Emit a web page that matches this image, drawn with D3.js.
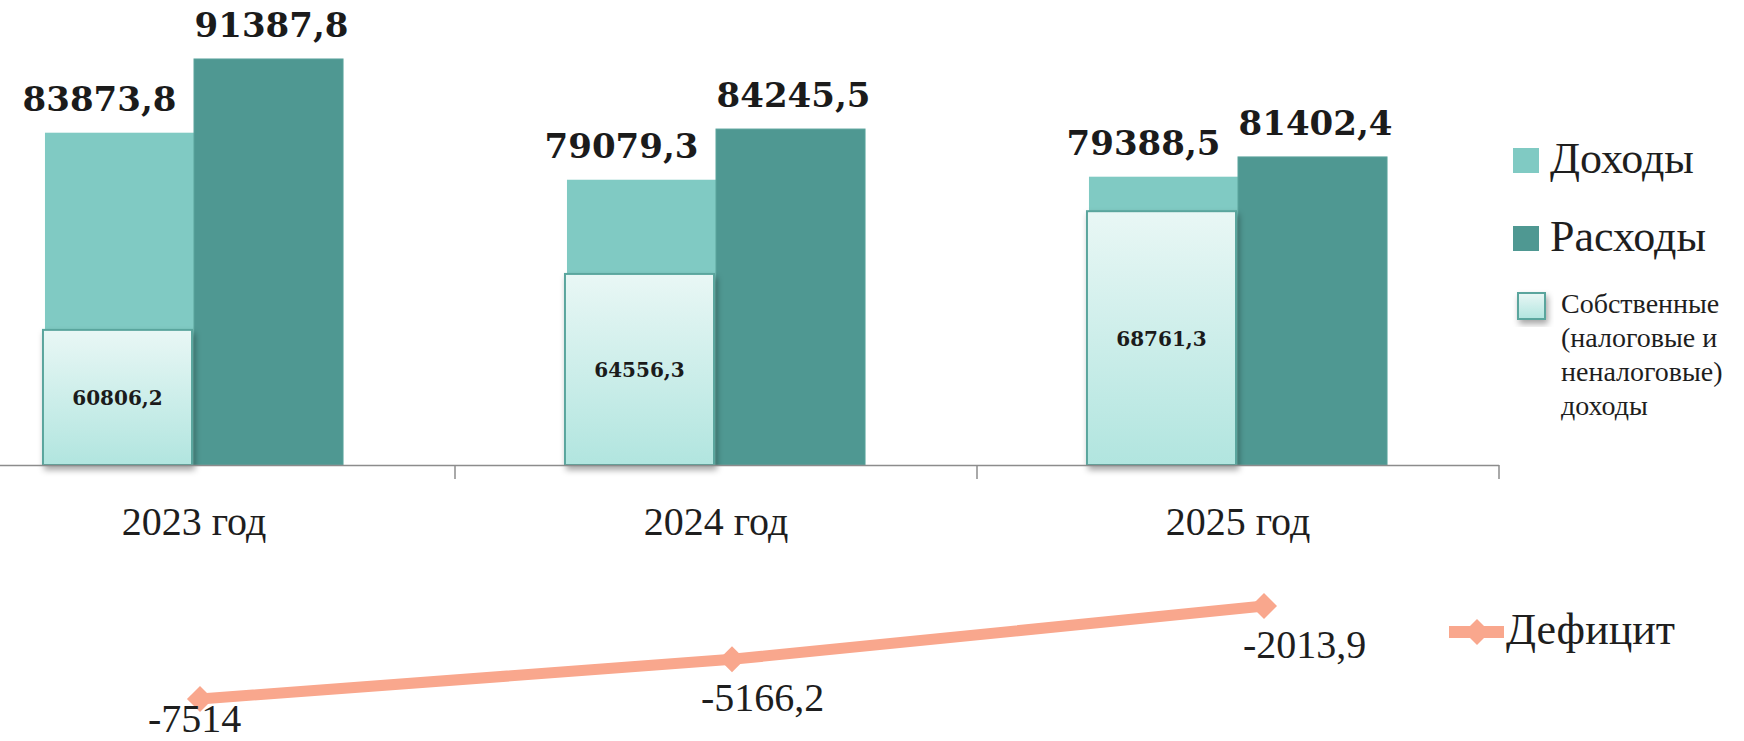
<!DOCTYPE html>
<html>
<head>
<meta charset="utf-8">
<script src="https://cdn.jsdelivr.net/npm/d3@7"></script>
<style>
  body { margin: 0; background: #fff; }
  text { font-family: "Liberation Serif", serif; fill: #1e1e1e; }
  .val { font-family: "DejaVu Serif", serif; font-weight: bold; fill: #1b1b1b; }
</style>
</head>
<body>
<div id="chart"></div>
<script>
// chart data
var years = ["2023 год", "2024 год", "2025 год"];
var income = [83873.8, 79079.3, 79388.5];
var expense = [91387.8, 84245.5, 81402.4];
var ownIncome = [60806.2, 64556.3, 68761.3];
var deficit = [-7514, -5166.2, -2013.9];
var deficitLabels = ["-7514", "-5166,2", "-2013,9"];
var legendNames = ["Доходы", "Расходы"];
var ownLegend = ["Собственные", "(налоговые и", "неналоговые)", "доходы"];

var fmt = function (v) { return String(v.toFixed(1)).replace(".", ","); };

var width = 1744, height = 741;
var baseY = 465;

var svg = d3.select("#chart").append("svg")
    .attr("width", width)
    .attr("height", height);

var defs = svg.append("defs");
var grad = defs.append("linearGradient")
    .attr("id", "ownGrad")
    .attr("x1", 0).attr("y1", 0).attr("x2", 0).attr("y2", 1);
grad.append("stop").attr("offset", "0%").attr("stop-color", "#e9f7f5");
grad.append("stop").attr("offset", "100%").attr("stop-color", "#b1e5df");

var shadow = defs.append("filter").attr("id", "shadow")
    .attr("x", "-20%").attr("y", "-20%").attr("width", "150%").attr("height", "150%");
shadow.append("feDropShadow")
    .attr("dx", 2).attr("dy", 4).attr("stdDeviation", 3)
    .attr("flood-color", "#000").attr("flood-opacity", 0.35);

// Scales
var x = d3.scaleBand().domain(years).range([-67, 1499])
    .paddingInner(0.429).paddingOuter(0.2145);
var xs = d3.scaleBand().domain(legendNames).range([0, x.bandwidth()]);
var y = d3.scaleLinear().domain([50000, 95000]).range([baseY, baseY - 45000 * 0.00981]);
// own incomes are drawn on their own axis
var y2 = d3.scaleLinear().domain([51750, 80000]).range([baseY, baseY - 28250 * 0.01492]);

var xLine = d3.scalePoint().domain(years).range([200, 1264]);
var yLine = d3.scaleLinear().domain([-8000, 0]).range([707.2, 572]);

var colors = { "Доходы": "#80cac3", "Расходы": "#4f9892" };

var rows = years.map(function (yr, i) {
    return { year: yr, income: income[i], expense: expense[i], own: ownIncome[i], def: deficit[i], defLabel: deficitLabels[i] };
});

var g = svg.append("g");

// income bars
g.selectAll(".inc").data(rows).enter().append("rect")
    .attr("class", "inc")
    .attr("x", function (d) { return x(d.year) + xs("Доходы"); })
    .attr("y", function (d) { return y(d.income); })
    .attr("width", xs.bandwidth())
    .attr("height", function (d) { return baseY - y(d.income); })
    .attr("fill", colors["Доходы"]);

// expense bars
g.selectAll(".exp").data(rows).enter().append("rect")
    .attr("class", "exp")
    .attr("x", function (d) { return x(d.year) + xs("Расходы"); })
    .attr("y", function (d) { return y(d.expense); })
    .attr("width", xs.bandwidth())
    .attr("height", function (d) { return baseY - y(d.expense); })
    .attr("fill", colors["Расходы"])
    .attr("stroke", "#5aa39c").attr("stroke-width", 1);

// own incomes bars
g.selectAll(".own").data(rows).enter().append("rect")
    .attr("class", "own")
    .attr("x", function (d) { return x(d.year) - 2; })
    .attr("y", function (d) { return y2(d.own); })
    .attr("width", xs.bandwidth())
    .attr("height", function (d) { return baseY - y2(d.own); })
    .attr("fill", "url(#ownGrad)")
    .attr("stroke", "#5aa59d").attr("stroke-width", 2)
    .attr("filter", "url(#shadow)");

g.selectAll(".ownLbl").data(rows).enter().append("text")
    .attr("class", "val")
    .attr("x", function (d) { return x(d.year) - 2 + xs.bandwidth() / 2; })
    .attr("y", function (d) { return (y2(d.own) + baseY) / 2 + 8; })
    .attr("text-anchor", "middle")
    .attr("font-size", 20)
    .text(function (d) { return fmt(d.own); });

// value labels above bars
g.selectAll(".incLbl").data(rows).enter().append("text")
    .attr("class", "val")
    .attr("x", function (d) { return x(d.year) + xs("Доходы") + xs.bandwidth() / 2 - 20; })
    .attr("y", function (d) { return y(d.income) - 22; })
    .attr("text-anchor", "middle")
    .attr("font-size", 34)
    .text(function (d) { return fmt(d.income); });

g.selectAll(".expLbl").data(rows).enter().append("text")
    .attr("class", "val")
    .attr("x", function (d) { return x(d.year) + xs("Расходы") + xs.bandwidth() / 2 + 3; })
    .attr("y", function (d) { return y(d.expense) - 22; })
    .attr("text-anchor", "middle")
    .attr("font-size", 34)
    .text(function (d) { return fmt(d.expense); });

// x axis line and between-category ticks
var gap = x.step() * x.paddingInner();
g.append("line")
    .attr("x1", 0).attr("x2", x(years[2]) + x.bandwidth() + gap / 2)
    .attr("y1", baseY + 0.5).attr("y2", baseY + 0.5)
    .attr("stroke", "#8c8c8c").attr("stroke-width", 1.5);
g.selectAll(".tick").data(years).enter().append("line")
    .attr("x1", function (d) { return x(d) + x.bandwidth() + gap / 2; })
    .attr("x2", function (d) { return x(d) + x.bandwidth() + gap / 2; })
    .attr("y1", baseY).attr("y2", baseY + 14)
    .attr("stroke", "#8c8c8c").attr("stroke-width", 1.5);

var xAxis = g.append("g")
    .attr("transform", "translate(0," + baseY + ")")
    .call(d3.axisBottom(x).tickSize(0));
xAxis.select(".domain").remove();
xAxis.selectAll("text")
    .attr("dy", null)
    .attr("y", 70)
    .attr("font-size", 40)
    .attr("fill", "#1e1e1e")
    .style("font-family", "'Liberation Serif', serif");

// deficit line
var line = d3.line()
    .x(function (d) { return xLine(d.year); })
    .y(function (d) { return yLine(d.def); });

g.append("path").datum(rows)
    .attr("d", line)
    .attr("fill", "none")
    .attr("stroke", "#f9a78d")
    .attr("stroke-width", 11);

var diamond = d3.symbol().type(d3.symbolSquare).size(340);
g.selectAll(".mark").data(rows).enter().append("path")
    .attr("d", diamond)
    .attr("fill", "#f9a78d")
    .attr("transform", function (d) { return "translate(" + xLine(d.year) + "," + yLine(d.def) + ") rotate(45)"; });

var labelShift = [[-52, 33], [-31, 52], [-21, 52]];
g.selectAll(".defLbl").data(rows).enter().append("text")
    .attr("x", function (d, i) { return xLine(d.year) + labelShift[i][0]; })
    .attr("y", function (d, i) { return yLine(d.def) + labelShift[i][1]; })
    .attr("font-size", 40)
    .text(function (d) { return d.defLabel; });

// legend
var leg = svg.append("g");
legendNames.forEach(function (name, i) {
    var ly = 148 + i * 78;
    leg.append("rect")
        .attr("x", 1513).attr("y", ly).attr("width", 26).attr("height", 25)
        .attr("fill", colors[name]);
    leg.append("text")
        .attr("x", 1550).attr("y", ly + 25)
        .attr("font-size", 44)
        .text(name);
});
leg.append("rect")
    .attr("x", 1518).attr("y", 293).attr("width", 27).attr("height", 26)
    .attr("fill", "url(#ownGrad)")
    .attr("stroke", "#5aa59d").attr("stroke-width", 2)
    .attr("filter", "url(#shadow)");
leg.selectAll(".ownLeg").data(ownLegend).enter().append("text")
    .attr("x", 1561)
    .attr("y", function (d, i) { return 313 + i * 34; })
    .attr("font-size", 28)
    .text(function (d) { return d; });

leg.append("line")
    .attr("x1", 1449).attr("x2", 1504).attr("y1", 632).attr("y2", 632)
    .attr("stroke", "#f9a78d").attr("stroke-width", 12);
leg.append("path")
    .attr("d", diamond)
    .attr("fill", "#f9a78d")
    .attr("transform", "translate(1477,632) rotate(45)");
leg.append("text")
    .attr("x", 1506).attr("y", 644)
    .attr("font-size", 44)
    .text("Дефицит");
</script>
</body>
</html>
